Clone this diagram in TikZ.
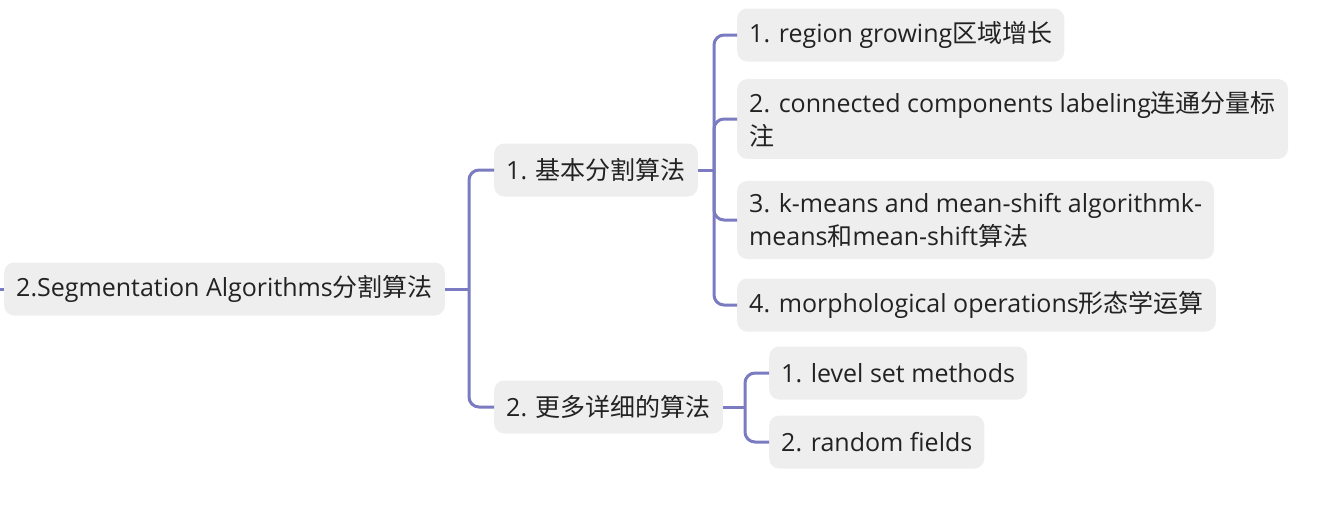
\documentclass[tikz,border=0pt]{standalone}
\usepackage{fontspec}
\setmainfont{Open Sans}
\newfontfamily\zh{Noto Sans CJK SC}
\usetikzlibrary{
	positioning		% relative placement
	, calc
}

\definecolor{topicgray}{HTML}{EEEEEE}
\definecolor{branchblue}{HTML}{7B7BC1}
\definecolor{inkgray}{HTML}{222222}

\begin{document}
\begin{tikzpicture}[
				x=1pt, y=-1pt,
				topic/.style={
					rectangle,
					rounded corners=10pt,
					fill=topicgray,
					text=inkgray,
					inner xsep=12pt, inner ysep=12pt,
					minimum height=53pt,
					align=left,
					anchor=west,
					font=\fontsize{25}{33}\selectfont
				},
				branch/.style={
					draw=branchblue,
					line width=3pt,
					rounded corners=10pt
				}]

			\useasboundingbox (0,0) rectangle (1324,506);

			%%% Root and its two groups
			\node [topic] (root) at (4,289) {2.Segmentation Algorithms{\zh 分割算法}};
			\node [topic] (basic) at (494,170) {1. {\zh 基本分割算法}};
			\node [topic] (more) at (494,407) {2. {\zh 更多详细的算法}};

			%%% Leaves of the first group
			\foreach [count=\i] \y/\txt in {
					35/{1. region growing{\zh 区域增长}},
					119/{2. connected components labeling{\zh 连通分量标}\\{\zh 注}},
					220/{3. k-means and mean-shift algorithmk-\\means{\zh 和}mean-shift{\zh 算法}},
					305/{4. morphological operations{\zh 形态学运算}}} {
				\node [topic] (basic\i) at (737,\y) {\txt};
			};

			%%% Leaves of the second group
			\foreach [count=\i] \y/\txt in {373/{1. level set methods}, 442/{2. random fields}} {
				\node [topic] (more\i) at (769,\y) {\txt};
			};

			%%% Forks where the branches split
			\coordinate (parentStub) at (0,289);
			\coordinate (rootFork) at (469,289);
			\coordinate (basicFork) at (714,170);
			\coordinate (moreFork) at (745,407);

			\draw [branch] (parentStub) -- (root.west);
			\draw [branch] (root.east) -- (rootFork);
			\foreach \kid in {basic, more}
				\draw [branch] (rootFork) |- (\kid.west);

			\draw [branch] (basic.east) -- (basicFork);
			\foreach \i in {1,...,4}
				\draw [branch] (basicFork) |- (basic\i.west);

			\draw [branch] (more.east) -- (moreFork);
			\foreach \i in {1,2}
				\draw [branch] (moreFork) |- (more\i.west);

		\end{tikzpicture}
\end{document}
